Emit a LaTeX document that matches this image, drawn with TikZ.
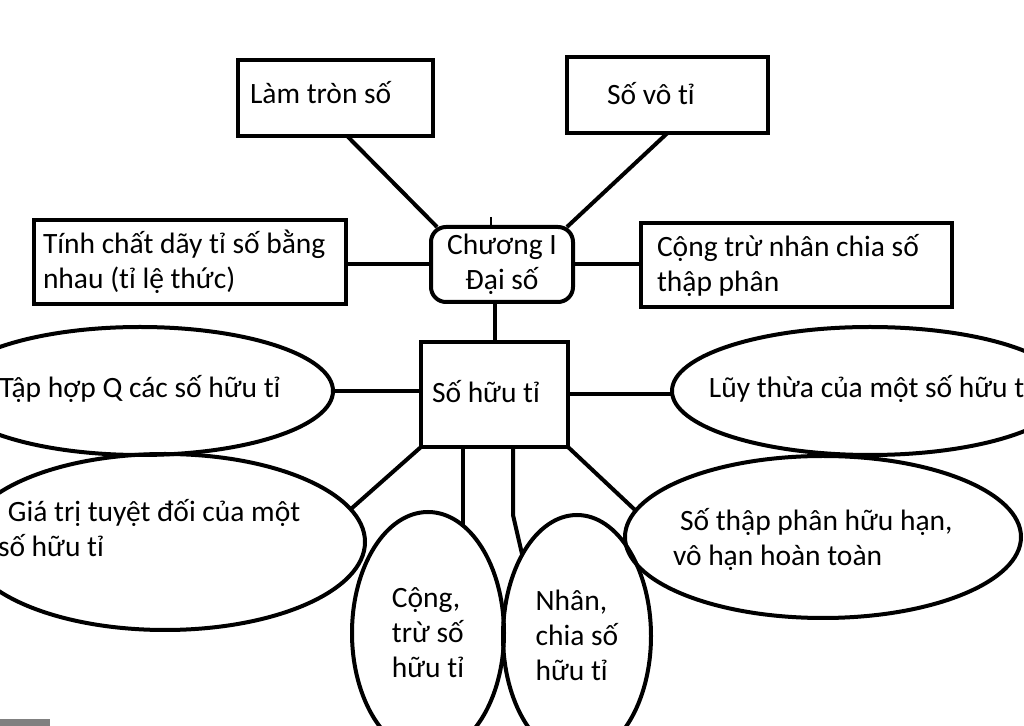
\documentclass[tikz,border=0pt]{standalone}
\usepackage{fontspec}
\setmainfont{Carlito}
\usepackage{tikz}
\usetikzlibrary{shapes.geometric}
\usetikzlibrary{positioning,calc}

\begin{document}
\begin{tikzpicture}[x=0.5pt,y=-0.5pt,line width=2pt,
    every node/.style={font={\fontsize{14.75pt}{17.5pt}\selectfont},text=black},
    hop/.style={draw,rectangle,align=flush left,inner ysep=0pt,outer sep=0pt},
    oval/.style={draw,ellipse,align=flush left,inner xsep=-15pt,inner ysep=0pt,outer sep=0pt}]
    \useasboundingbox (0,0) rectangle (1024,726);
    \clip (0,0) rectangle (1024,726);

    % Centre of the map
    \node[hop,rounded corners=7.5pt,align=center,minimum width=71pt,minimum height=37.5pt] (chuong) at (502,264.5) {Chương I\\Đại số};

    % Boxes round the centre
    \node[hop,minimum height=38pt,text width=85.5pt,inner xsep=6pt,text height=14pt,text depth=8pt] (lamtron) at (335.5,98) {Làm tròn số};
    \node[hop,minimum height=38pt,text width=60.5pt,inner xsep=20pt,text height=14pt,text depth=4pt] (sovoti) at (667.5,95) {Số vô tỉ};
    \node[hop,minimum height=42pt,text width=147pt,inner xsep=4.5pt] (tinhchat) at (190,262) {Tính chất dãy tỉ số bằng\\nhau (tỉ lệ thức)};
    \node[hop,minimum height=42pt,text width=139.5pt,inner xsep=8pt] (congtru) at (796.5,265) {Cộng trừ nhân chia số\\thập phân};
    \node[hop,minimum height=52.5pt,text width=62.5pt,inner xsep=5.5pt,text height=14pt,text depth=6pt] (sohuuti) at (494.5,394.5) {Số hữu tỉ};

    % Ovals round Số hữu tỉ
    \node[oval,minimum width=193pt,minimum height=64pt,text height=14pt,text depth=7pt] (taphop) at (140,391) {Tập hợp Q các số hữu tỉ};
    \node[oval,minimum width=198pt,minimum height=64pt,text height=14pt,text depth=7pt] (luythua) at (870,391) {Lũy thừa của một số hữu tỉ};
    \node[oval,minimum width=200pt,minimum height=88pt,text width=167pt,text depth=32pt] (giatri) at (165,542) {\hspace*{5pt}Giá trị tuyệt đối của một\\số hữu tỉ};
    \node[oval,minimum width=198pt,minimum height=81pt,text width=150pt,text depth=18pt] (sothapphan) at (823,537) {\hspace*{3.5pt}Số thập phân hữu hạn,\\vô hạn hoàn toàn};
    \node[oval,minimum width=76pt,minimum height=121pt,text depth=0pt] (cong) at (428,633) {Cộng,\\trừ số\\hữu tỉ};
    \node[oval,minimum width=74pt,minimum height=121pt,text depth=1pt] (nhan) at (577,636) {Nhân,\\chia số\\hữu tỉ};

    % Lines from the centre
    \draw (lamtron.-73) -- (chuong.150);
    \draw (sovoti.south) -- (chuong.30);
    \draw (tinhchat.east |- chuong.west) -- (chuong.west);
    \draw (chuong.east) -- (congtru.west |- chuong.east);
    \draw (chuong.south -| sohuuti.north) -- (sohuuti.north);
    \coordinate (tick) at (491,217);
    \draw[line width=1.2pt] (tick) -- (tick |- chuong.north);

    % Lines from Số hữu tỉ
    \draw (taphop.east) -- (taphop.east -| sohuuti.west);
    \draw (sohuuti.east) -- (sohuuti.east -| luythua.west);
    \draw (sohuuti.south west) -- (giatri.10);
    \draw (cong.72.5 |- sohuuti.south) -- (cong.72.5);
    \draw ([xshift=9.25pt]sohuuti.south) -- ++(0,68) -- (nhan.124);
    \draw (sohuuti.south east) -- (sothapphan.172.5);

    % grey corner
    \fill[black!50] (0,719) rectangle (50,726);
\end{tikzpicture}
\end{document}
